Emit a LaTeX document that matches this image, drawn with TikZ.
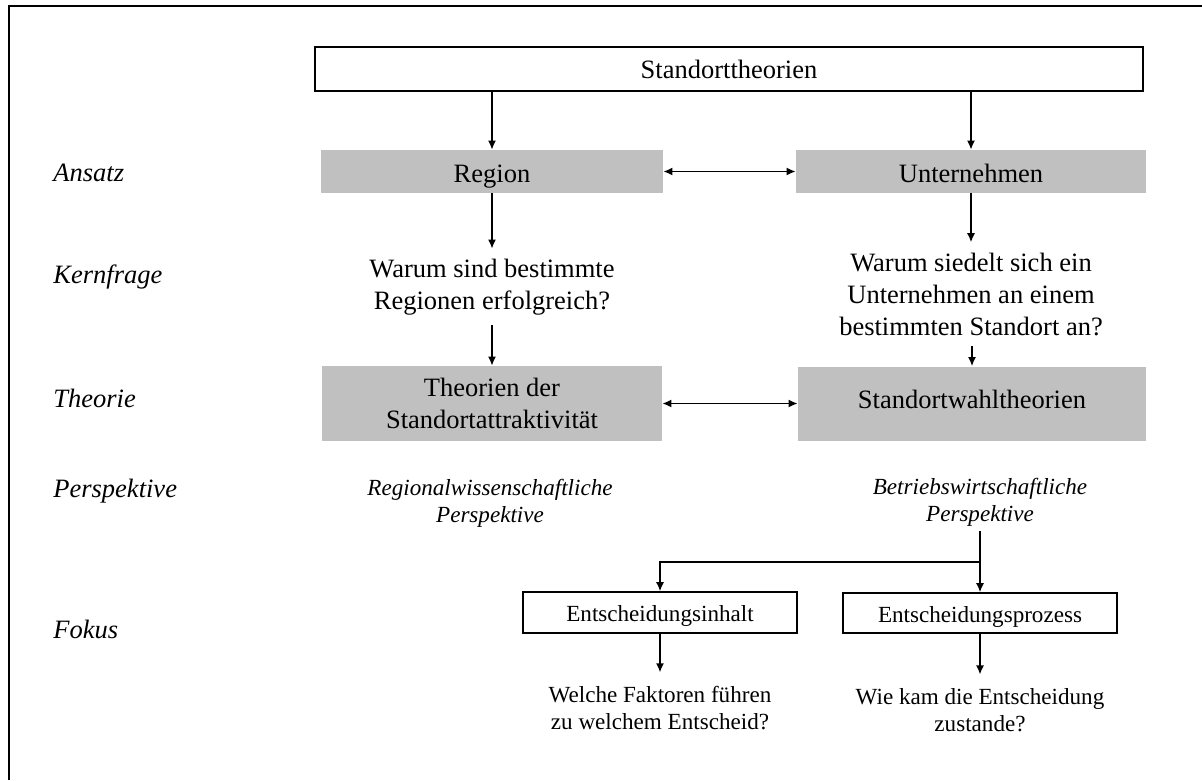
\documentclass[tikz,border=0pt]{standalone}
\usepackage{fontspec}
\setmainfont{Liberation Serif}
\usepackage{xcolor}
\usepackage{tikz}
\usetikzlibrary{arrows.meta}

\definecolor{boxgray}{RGB}{192,192,192}
\newcommand{\mainsize}{\fontsize{13.25}{16}\selectfont}
\newcommand{\subsize}{\fontsize{11.55}{13.5}\selectfont}

\begin{document}
\begin{tikzpicture}[x=0.5pt, y=-0.5pt,
    arr/.style={-{Latex[length=4.5pt,width=4pt]}, line width=0.7pt},
    dblarr/.style={{Latex[length=4.5pt,width=4pt]}-{Latex[length=4.5pt,width=4pt]}, line width=0.7pt},
    greybox/.style={rectangle, fill=boxgray, inner sep=0pt, align=center, font=\mainsize},
    whitebox/.style={rectangle, draw, line width=0.8pt, inner sep=0pt, align=center},
    textlift/.style={text height=#1, text depth=0pt},
    frage/.style={align=center, font=\mainsize, inner xsep=0pt, inner ysep=5pt},
    fokusfrage/.style={align=center, font=\subsize, inner xsep=0pt, inner ysep=7pt},
    persp/.style={align=center, font=\subsize\itshape, inner sep=2.5pt},
    rowlabel/.style={anchor=base west, font=\mainsize\itshape, inner sep=0pt}]
    \useasboundingbox (0,0) rectangle (1202,780);
    % Frame
    \draw[line width=1pt] (9,780) -- (9,6) -- (1202,6);

    % Row labels
    \node[rowlabel] (ansatz) at (53,182) {Ansatz};
    \node[rowlabel] (kernfrage) at (53,284) {Kernfrage};
    \node[rowlabel] (theorie) at (53,407) {Theorie};
    \node[rowlabel] (perspektive) at (53,497) {Perspektive};
    \node[rowlabel] (fokus) at (53,638) {Fokus};

    % Nodes
    \node[whitebox, textlift=9.3pt, font=\mainsize, minimum width=414pt, minimum height=22pt] (theorien) at (729,69) {Standorttheorien};
    \node[greybox, textlift=11.2pt, minimum width=171pt, minimum height=21.5pt] (region) at (492,171.5) {Region};
    \node[greybox, textlift=11.2pt, minimum width=175pt, minimum height=21.5pt] (unternehmen) at (971,171.5) {Unternehmen};
    \node[frage] (frageregion) at (492,287) {Warum sind bestimmte\\Regionen erfolgreich?};
    \node[frage] (frageunt) at (971,294) {Warum siedelt sich ein\\Unternehmen an einem\\bestimmten Standort an?};
    \node[greybox, minimum width=170pt, minimum height=37.5pt] (attraktiv) at (492,403.5) {Theorien der\\Standortattraktivität};
    \node[greybox, textlift=4.5pt, minimum width=174pt, minimum height=37pt] (wahl) at (972,403.5) {Standortwahltheorien};
    \node[persp] (perspreg) at (490,503) {Regionalwissenschaftliche\\Perspektive};
    \node[persp] (perspbw) at (980,502) {Betriebswirtschaftliche\\Perspektive};
    \node[whitebox, textlift=8.5pt, font=\subsize, minimum width=137pt, minimum height=20.5pt] (inhalt) at (660,612.5) {Entscheidungsinhalt};
    \node[whitebox, textlift=9pt, font=\subsize, minimum width=137pt, minimum height=20pt] (prozess) at (980,613) {Entscheidungsprozess};
    \node[fokusfrage] (frageinhalt) at (660,708.5) {Welche Faktoren führen\\zu welchem Entscheid?};
    \node[fokusfrage] (frageprozess) at (980,710.5) {Wie kam die Entscheidung\\zustande?};
    \coordinate (split) at (980,562);

    % Path
    \draw[arr] (theorien.south -| region) -- (region);
    \draw[arr] (theorien.south -| unternehmen) -- (unternehmen);
    \draw[dblarr] (region) -- (unternehmen);
    \draw[arr] (region) -- (frageregion);
    \draw[arr] (unternehmen) -- (frageunt);
    \draw[arr] (frageregion) -- (attraktiv);
    \draw[arr] (frageunt.south -| wahl) -- (wahl);
    \draw[dblarr] (attraktiv) -- (wahl);
    \draw[arr] (perspbw) -- (prozess);
    \draw[arr] (split) -| (inhalt);
    \draw[arr] (inhalt) -- (frageinhalt);
    \draw[arr] (prozess) -- (frageprozess);
\end{tikzpicture}
\end{document}
